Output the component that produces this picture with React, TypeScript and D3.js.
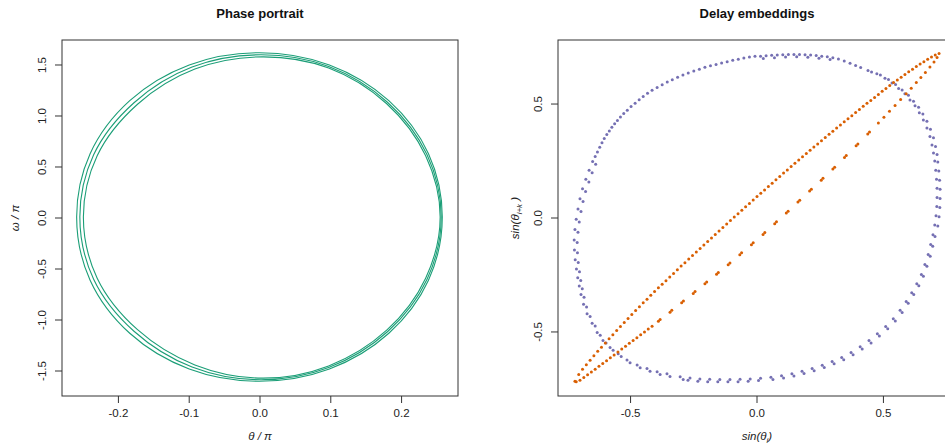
import React from "react";
import * as d3 from "d3";

type Pt = [number, number];

// phase portrait: three nearly concentric loops (theta/pi, omega/pi)
const phaseOuter: Pt[] = [
  [0.2575, 0.01], [0.238, 0.63], [0.182, 1.15], [0.098, 1.5], [-0.001, 1.62], [-0.1, 1.5], [-0.184, 1.15], [-0.24, 0.63],
  [-0.259, 0.01], [-0.24, -0.61], [-0.184, -1.13], [-0.1, -1.48], [-0.001, -1.6], [0.098, -1.48], [0.182, -1.13], [0.238, -0.61],
];
const phaseMiddle: Pt[] = [
  [0.256, 0.01], [0.236, 0.62], [0.18, 1.135], [0.097, 1.485], [0.001, 1.6], [-0.096, 1.48], [-0.178, 1.13], [-0.235, 0.62],
  [-0.2545, 0.01], [-0.235, -0.6], [-0.178, -1.11], [-0.096, -1.46], [0.001, -1.585], [0.097, -1.465], [0.18, -1.115], [0.236, -0.6],
];
const phaseInner: Pt[] = [
  [0.2545, 0.01], [0.234, 0.61], [0.179, 1.12], [0.097, 1.47], [0.003, 1.58], [-0.092, 1.46], [-0.173, 1.115], [-0.23, 0.61],
  [-0.2495, 0.01], [-0.23, -0.59], [-0.173, -1.095], [-0.092, -1.44], [0.003, -1.57], [0.097, -1.45], [0.179, -1.1], [0.234, -0.59],
];
const phaseLoops = [phaseOuter, phaseMiddle, phaseInner];

const phaseXTicks = [-0.2, -0.1, 0, 0.1, 0.2];
const phaseYTicks = [-1.5, -1, -0.5, 0, 0.5, 1, 1.5];
const delayTicks = [-0.5, 0, 0.5];

// delay embedding, sin(theta_i) vs sin(theta_i+k) for the long lag (blue)
const blueLeft: Pt[] = [
  [-0.304, -0.697], [-0.356, -0.683], [-0.395, -0.675], [-0.435, -0.66], [-0.474, -0.645], [-0.514, -0.623], [-0.549, -0.596],
  [-0.581, -0.568], [-0.609, -0.537], [-0.632, -0.502], [-0.652, -0.462], [-0.672, -0.42], [-0.686, -0.378], [-0.696, -0.336],
  [-0.703, -0.298], [-0.709, -0.262], [-0.714, -0.224], [-0.719, -0.183], [-0.722, -0.14], [-0.723, -0.096], [-0.72, -0.051],
  [-0.715, -0.006], [-0.708, 0.04], [-0.7, 0.084], [-0.69, 0.128], [-0.677, 0.17], [-0.664, 0.21], [-0.65, 0.248],
  [-0.292, -0.709], [-0.344, -0.695], [-0.383, -0.687], [-0.423, -0.672], [-0.462, -0.657], [-0.502, -0.635], [-0.537, -0.608],
  [-0.569, -0.58], [-0.597, -0.549], [-0.62, -0.514], [-0.64, -0.474], [-0.66, -0.432], [-0.674, -0.39], [-0.684, -0.348],
  [-0.691, -0.31], [-0.697, -0.274], [-0.702, -0.236], [-0.707, -0.195], [-0.71, -0.152], [-0.711, -0.108], [-0.708, -0.063],
  [-0.703, -0.018], [-0.696, 0.028], [-0.688, 0.072], [-0.678, 0.116], [-0.665, 0.158], [-0.652, 0.198], [-0.638, 0.236],
];
const blueUpperArc: Pt[] = [
  [-0.64, 0.27], [-0.631, 0.29], [-0.622, 0.31], [-0.613, 0.33], [-0.604, 0.349], [-0.594, 0.366], [-0.584, 0.382],
  [-0.574, 0.398], [-0.563, 0.413], [-0.552, 0.428], [-0.54, 0.443], [-0.527, 0.458], [-0.513, 0.473], [-0.498, 0.489],
  [-0.482, 0.504], [-0.466, 0.519], [-0.45, 0.533], [-0.433, 0.547], [-0.415, 0.56], [-0.395, 0.573], [-0.375, 0.585],
  [-0.355, 0.597], [-0.335, 0.607], [-0.314, 0.618], [-0.293, 0.627], [-0.272, 0.636], [-0.25, 0.645], [-0.228, 0.653],
  [-0.206, 0.661], [-0.184, 0.668], [-0.162, 0.674], [-0.14, 0.68], [-0.118, 0.686], [-0.096, 0.692], [-0.074, 0.697],
  [-0.052, 0.702], [-0.03, 0.706], [-0.008, 0.71],
];
const blueTop: Pt[] = [
  [0.014, 0.71], [0.036, 0.712], [0.058, 0.714], [0.08, 0.715], [0.102, 0.716], [0.124, 0.717], [0.146, 0.717],
  [0.168, 0.717], [0.19, 0.716], [0.212, 0.715], [0.234, 0.713], [0.256, 0.71], [0.278, 0.707], [0.3, 0.703],
  [0.025, 0.7], [0.069, 0.703], [0.113, 0.706], [0.157, 0.707], [0.201, 0.705], [0.245, 0.701], [0.289, 0.695],
];
const blueUpperRight: Pt[] = [
  [0.322, 0.698], [0.345, 0.689], [0.368, 0.679], [0.39, 0.669], [0.41, 0.66], [0.439, 0.647], [0.474, 0.633],
  [0.506, 0.613], [0.534, 0.592], [0.56, 0.568], [0.585, 0.545], [0.605, 0.518], [0.625, 0.492], [0.642, 0.462],
  [0.658, 0.43], [0.672, 0.395], [0.684, 0.358], [0.692, 0.32], [0.698, 0.285],
  [0.453, 0.641], [0.488, 0.627], [0.52, 0.608], [0.548, 0.586], [0.574, 0.562], [0.599, 0.539], [0.619, 0.512],
  [0.639, 0.486], [0.656, 0.456], [0.672, 0.424], [0.686, 0.389], [0.698, 0.352], [0.706, 0.314], [0.712, 0.279],
];
const blueRight: Pt[] = [
  [0.703, 0.25], [0.707, 0.21], [0.71, 0.17], [0.712, 0.13], [0.712, 0.09], [0.711, 0.05], [0.708, 0.01], [0.703, -0.031],
  [0.696, -0.073], [0.687, -0.116], [0.677, -0.16], [0.664, -0.204], [0.65, -0.248], [0.632, -0.289], [0.612, -0.328], [0.59, -0.366],
  [0.715, 0.246], [0.719, 0.206], [0.722, 0.166], [0.724, 0.126], [0.724, 0.086], [0.723, 0.046], [0.72, 0.006], [0.715, -0.035],
  [0.704, -0.081], [0.695, -0.124], [0.685, -0.168], [0.672, -0.212], [0.658, -0.256], [0.64, -0.297], [0.62, -0.336], [0.598, -0.374],
];
const blueLowerRight: Pt[] = [
  [0.566, -0.405], [0.539, -0.442], [0.509, -0.476], [0.476, -0.508], [0.443, -0.538], [0.408, -0.565], [0.372, -0.59],
  [0.335, -0.612], [0.297, -0.63], [0.258, -0.646], [0.218, -0.66], [0.178, -0.672], [0.138, -0.683], [0.097, -0.692], [0.055, -0.699],
  [0.574, -0.415], [0.547, -0.452], [0.517, -0.486], [0.484, -0.518], [0.451, -0.548], [0.416, -0.575], [0.38, -0.6],
  [0.343, -0.622], [0.305, -0.64], [0.266, -0.656], [0.226, -0.67], [0.186, -0.682], [0.146, -0.693], [0.105, -0.702], [0.063, -0.709],
];
const blueBottom: Pt[] = [
  [0.014, -0.703], [-0.027, -0.706], [-0.067, -0.708], [-0.107, -0.709], [-0.147, -0.709], [-0.187, -0.708], [-0.226, -0.706], [-0.265, -0.702],
  [0.006, -0.713], [-0.035, -0.716], [-0.075, -0.718], [-0.115, -0.719], [-0.155, -0.719], [-0.195, -0.718], [-0.234, -0.716], [-0.273, -0.712],
];
const bluePoints: Pt[] = [
  ...blueLeft, ...blueUpperArc, ...blueTop, ...blueUpperRight, ...blueRight, ...blueLowerRight, ...blueBottom,
];

// short lag (orange): thin loop along the diagonal
const orangeUpper: Pt[] = [
  [-0.72, -0.716], [-0.705, -0.687], [-0.69, -0.664], [-0.675, -0.644], [-0.66, -0.624], [-0.645, -0.604], [-0.63, -0.585],
  [-0.615, -0.567], [-0.6, -0.548], [-0.585, -0.53], [-0.57, -0.512], [-0.555, -0.494], [-0.54, -0.476], [-0.525, -0.459],
  [-0.51, -0.441], [-0.495, -0.423], [-0.48, -0.406], [-0.465, -0.389], [-0.45, -0.372], [-0.435, -0.356], [-0.42, -0.339],
  [-0.405, -0.323], [-0.39, -0.306], [-0.375, -0.291], [-0.36, -0.275], [-0.345, -0.259], [-0.33, -0.243], [-0.315, -0.227],
  [-0.3, -0.211], [-0.285, -0.196], [-0.27, -0.18], [-0.255, -0.165], [-0.24, -0.149], [-0.225, -0.134], [-0.21, -0.118],
  [-0.195, -0.103], [-0.18, -0.088], [-0.165, -0.072], [-0.15, -0.057], [-0.135, -0.042], [-0.12, -0.026], [-0.105, -0.011],
  [-0.09, 0.004], [-0.075, 0.019], [-0.06, 0.034], [-0.045, 0.049], [-0.03, 0.064], [-0.015, 0.079], [0.0, 0.094],
  [0.015, 0.109], [0.03, 0.123], [0.045, 0.138], [0.06, 0.153], [0.075, 0.168], [0.09, 0.182], [0.105, 0.197], [0.12, 0.211],
  [0.135, 0.226], [0.15, 0.24], [0.165, 0.254], [0.18, 0.269], [0.195, 0.283], [0.21, 0.297], [0.225, 0.311], [0.24, 0.325],
  [0.255, 0.339], [0.27, 0.353], [0.285, 0.367], [0.3, 0.381], [0.315, 0.395], [0.33, 0.408], [0.345, 0.422], [0.36, 0.436],
  [0.375, 0.449], [0.39, 0.463], [0.405, 0.476], [0.42, 0.49], [0.435, 0.503], [0.45, 0.516], [0.465, 0.529], [0.48, 0.542],
  [0.495, 0.556], [0.51, 0.568], [0.525, 0.581], [0.54, 0.594], [0.555, 0.606], [0.57, 0.618], [0.585, 0.63], [0.6, 0.642],
  [0.615, 0.653], [0.63, 0.665], [0.645, 0.676], [0.66, 0.686], [0.675, 0.696], [0.69, 0.706], [0.705, 0.715], [0.72, 0.722],
];
const orangeLower: Pt[] = [
  [-0.715, -0.719], [-0.7, -0.712], [-0.685, -0.7], [-0.67, -0.688], [-0.655, -0.676], [-0.64, -0.664], [-0.625, -0.651],
  [-0.61, -0.638], [-0.595, -0.626], [-0.58, -0.613], [-0.565, -0.601], [-0.55, -0.588], [-0.535, -0.575], [-0.52, -0.563],
  [-0.505, -0.55], [-0.49, -0.538], [-0.475, -0.525], [-0.46, -0.512], [-0.445, -0.5], [-0.43, -0.487], [-0.415, -0.475],
  [-0.39, -0.453], [-0.383, -0.445], [-0.344, -0.413], [-0.337, -0.405], [-0.298, -0.372], [-0.291, -0.364],
  [-0.252, -0.331], [-0.245, -0.323], [-0.206, -0.289], [-0.199, -0.281], [-0.16, -0.247], [-0.153, -0.239],
  [-0.114, -0.205], [-0.107, -0.197], [-0.068, -0.161], [-0.061, -0.153], [-0.022, -0.117], [-0.015, -0.109],
  [0.024, -0.072], [0.031, -0.064], [0.07, -0.025], [0.077, -0.017], [0.116, 0.022], [0.123, 0.03], [0.162, 0.07],
  [0.169, 0.078], [0.208, 0.118], [0.215, 0.126], [0.254, 0.166], [0.261, 0.174], [0.3, 0.215], [0.307, 0.223],
  [0.346, 0.266], [0.353, 0.274], [0.392, 0.317], [0.399, 0.325], [0.438, 0.369], [0.445, 0.377],
  [0.48, 0.417], [0.502, 0.442], [0.524, 0.468], [0.546, 0.494], [0.568, 0.52], [0.59, 0.545], [0.61, 0.569],
  [0.63, 0.594], [0.648, 0.616], [0.666, 0.638], [0.684, 0.663], [0.7, 0.684], [0.712, 0.704],
];
const orangePoints: Pt[] = [...orangeUpper, ...orangeLower];

const font = "'Liberation Sans', Arial, Helvetica, sans-serif";
const teal = "#1b9e77";
const orange = "#d95f02";
const purple = "#7570b3";
const axisColor = "#333";
const fmt = (v: number) => v.toFixed(1);

export default function App() {
  const W = 945;
  const H = 444;
  const top = 40;
  const bottom = 396;

  // left panel
  const xL = d3.scaleLinear().domain([-0.2797, 0.2797]).range([62, 458]);
  const yL = d3.scaleLinear().domain([-1.745, 1.745]).range([bottom, top]);
  // right panel (its right edge falls outside the picture)
  const xR = d3.scaleLinear().domain([-0.787, 0.787]).range([558, 956]);
  const yR = d3.scaleLinear().domain([-0.781, 0.781]).range([bottom, top]);

  const loopLine = d3
    .line<Pt>()
    .x((d) => xL(d[0]))
    .y((d) => yL(d[1]))
    .curve(d3.curveCatmullRomClosed.alpha(0.5));

  const tickLen = 7;
  const labelSize = 11.5;

  return (
    <svg
      width={W}
      height={H}
      style={{ position: "absolute", left: 0, top: 0, background: "#fff" }}
      fontFamily={font}
    >
      <rect width={W} height={H} fill="#fff" />

      {/* titles */}
      <text x={260} y={17.5} textAnchor="middle" fontWeight="bold" fontSize={13} fill="#111">
        Phase portrait
      </text>
      <text x={757} y={17.5} textAnchor="middle" fontWeight="bold" fontSize={13} fill="#111">
        Delay embeddings
      </text>

      {/* ---------- phase portrait ---------- */}
      <g>
        {phaseLoops.map((loop, i) => (
          <path key={i} d={loopLine(loop) || ""} fill="none" stroke={teal} strokeWidth={1.1} />
        ))}
        <rect x={62} y={top} width={396} height={bottom - top} fill="none" stroke={axisColor} strokeWidth={1} />
        {phaseXTicks.map((t) => (
          <g key={"lx" + t}>
            <line x1={xL(t)} x2={xL(t)} y1={bottom} y2={bottom + tickLen} stroke={axisColor} />
            <text x={xL(t)} y={417} textAnchor="middle" fontSize={labelSize} fill="#222">
              {fmt(t)}
            </text>
          </g>
        ))}
        {phaseYTicks.map((t) => (
          <g key={"ly" + t}>
            <line x1={62} x2={62 - tickLen} y1={yL(t)} y2={yL(t)} stroke={axisColor} />
            <text
              transform={`translate(46,${yL(t)}) rotate(-90)`}
              textAnchor="middle"
              fontSize={labelSize}
              fill="#222"
            >
              {fmt(t)}
            </text>
          </g>
        ))}
        <text x={260} y={440} textAnchor="middle" fontSize={labelSize} fontStyle="italic" fill="#222">
          θ / π
        </text>
        <text transform="translate(19,218) rotate(-90)" textAnchor="middle" fontSize={labelSize} fontStyle="italic" fill="#222">
          ω / π
        </text>
      </g>

      {/* ---------- delay embeddings ---------- */}
      <g>
        {bluePoints.map((d, i) => (
          <circle key={"b" + i} cx={xR(d[0])} cy={yR(d[1])} r={1.5} fill={purple} />
        ))}
        {orangePoints.map((d, i) => (
          <circle key={"o" + i} cx={xR(d[0])} cy={yR(d[1])} r={1.5} fill={orange} />
        ))}
        <rect x={558} y={top} width={398} height={bottom - top} fill="none" stroke={axisColor} strokeWidth={1} />
        {delayTicks.map((t) => (
          <g key={"rx" + t}>
            <line x1={xR(t)} x2={xR(t)} y1={bottom} y2={bottom + tickLen} stroke={axisColor} />
            <text x={xR(t)} y={417} textAnchor="middle" fontSize={labelSize} fill="#222">
              {fmt(t)}
            </text>
          </g>
        ))}
        {delayTicks.map((t) => (
          <g key={"ry" + t}>
            <line x1={558} x2={558 - tickLen} y1={yR(t)} y2={yR(t)} stroke={axisColor} />
            <text
              transform={`translate(542,${yR(t)}) rotate(-90)`}
              textAnchor="middle"
              fontSize={labelSize}
              fill="#222"
            >
              {fmt(t)}
            </text>
          </g>
        ))}
        <text x={757} y={440} textAnchor="middle" fontSize={labelSize} fontStyle="italic" fill="#222">
          sin(θ
          <tspan fontSize={8} dy={3}>
            i
          </tspan>
          <tspan dy={-3}>)</tspan>
        </text>
        <text transform="translate(519,218) rotate(-90)" textAnchor="middle" fontSize={labelSize} fontStyle="italic" fill="#222">
          sin(θ
          <tspan fontSize={8} dy={3}>
            i+k
          </tspan>
          <tspan dy={-3}> )</tspan>
        </text>
      </g>
    </svg>
  );
}
